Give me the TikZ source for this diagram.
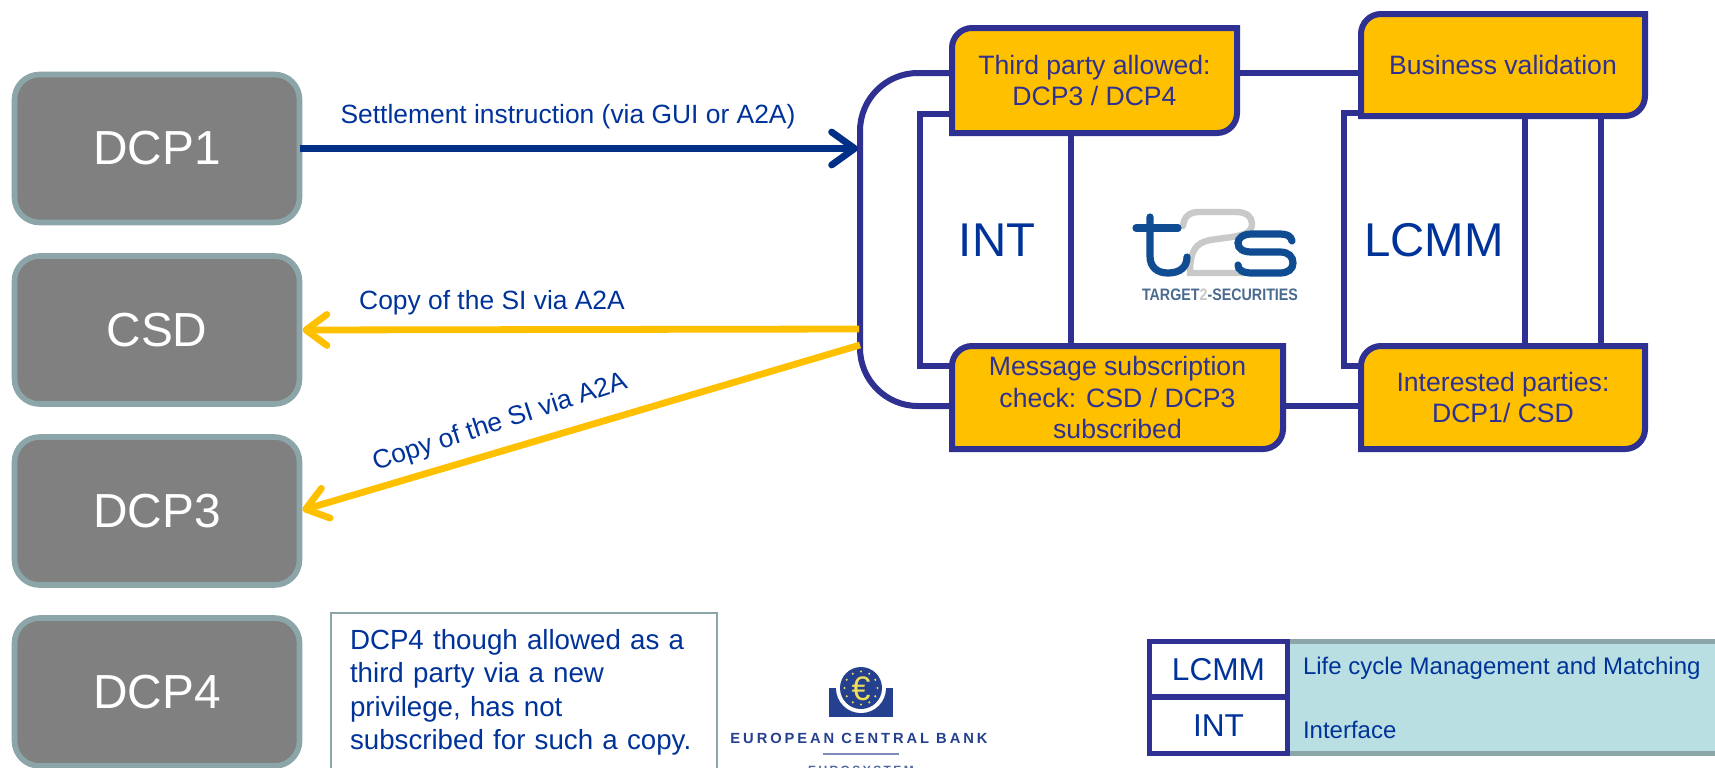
\documentclass[tikz,border=0pt]{standalone}
\usepackage{fontspec}
\usepackage{graphicx}
\setmainfont{Liberation Sans}
\newfontfamily\ecbfont[LetterSpace=20]{Liberation Sans}
\usetikzlibrary{arrows.meta}
\definecolor{navyline}{HTML}{2E3192}
\definecolor{navyarrow}{HTML}{002F87}
\definecolor{textblue}{HTML}{003399}
\definecolor{amber}{HTML}{FFC000}
\definecolor{slate}{HTML}{8BA5A8}
\definecolor{boxgrey}{HTML}{808080}
\definecolor{teal}{HTML}{B9DFE2}
\definecolor{logoblue}{HTML}{0F4C92}
\definecolor{logogrey}{HTML}{C9C9C9}
\definecolor{logotext}{HTML}{4A6A8E}
\definecolor{ecbblue}{HTML}{24408E}
\definecolor{ecbyellow}{HTML}{EFE05A}
\tikzset{
  every node/.style={outer sep=0pt,inner sep=0pt},
  party/.style={draw=slate,fill=boxgrey,line width=2.8pt,rounded corners=12.5pt,minimum width=142.5pt,minimum height=74pt,text=white,font=\fontsize{23.9}{28}\selectfont},
  tagshape/.style={draw=navyline,fill=amber,line width=3pt},
  tagtext/.style={text=navyline,align=center,font=\fontsize{13.3}{15.9}\selectfont},
  frame/.style={draw=navyline,line width=3pt},
  bigtext/.style={text=textblue,font=\fontsize{23.7}{28}\selectfont},
  flowlabel/.style={text=textblue,font=\fontsize{13.2}{15}\selectfont},
  solidflow/.style={draw=navyarrow,line width=3.4pt,-{Straight Barb[length=11.5pt,width=16.5pt,round]}},
  copyflow/.style={draw=amber,line width=3.4pt,shorten >=1.5pt,-{Straight Barb[length=10.5pt,width=15.5pt,round]}},
  legendkey/.style={draw=navyline,fill=white,line width=2.6pt,minimum width=69pt,text=textblue,font=\fontsize{15.8}{19}\selectfont},
  legendtext/.style={anchor=west,text=textblue,font=\fontsize{12}{14}\selectfont},
  t2sblue/.style={draw=logoblue,line width=3.6pt,line cap=round},
  t2sgrey/.style={draw=logogrey,line width=3.2pt,line cap=round},
}
\newcommand{\tagbox}[6]{%
  \pgfmathsetmacro\tagw{(#4-#2)*0.5}%
  \pgfmathsetmacro\tagh{(#5-#3)*0.5}%
  \path[tagshape] (#2,#5) [rounded corners=0pt] -- (#2,{#3+20}) [rounded corners=10pt] -- (#2,#3) [sharp corners] -- (#4,#3) -- (#4,{#5-20}) [rounded corners=10pt] -- (#4,#5) [sharp corners] -- cycle;
  \node[tagtext,minimum width=\tagw pt,minimum height=\tagh pt] (#1) at ({(#2+#4)/2},{(#3+#5)/2}) {#6};
}
\begin{document}
\begin{tikzpicture}[x=0.5pt,y=-0.5pt]
\useasboundingbox (0,0) rectangle (1715,767);
\clip (0,0) rectangle (1715,767);
\fill[white] (0,0) rectangle (1715,767);

% frames behind the amber boxes
\coordinate (outerT) at (860,73);
\coordinate (outerB) at (860,406);
\coordinate (intT) at (920,114);
\coordinate (intB) at (920,366);
\coordinate (lcmT) at (1344,113);
\coordinate (lcmB) at (1344,366);
\coordinate (divA) at (1071,0);
\coordinate (divB) at (1525,0);
\coordinate (divC) at (1601,0);

\tagbox{third}{952}{28}{1237}{133}{Third party allowed:\\DCP3 / DCP4}
\tagbox{biz}{1361}{14}{1645}{116}{Business validation}
\tagbox{msg}{952}{346}{1283}{449}{Message subscription\\check: CSD / DCP3\\subscribed}
\tagbox{inter}{1361}{346}{1645}{449}{Interested parties:\\DCP1/ CSD}

\draw[frame,rounded corners=29pt] (third.west |- outerT) -- (outerT) -- (outerB) -- (msg.west |- outerB);
\draw[frame] (third.east |- outerT) -- (biz.west |- outerT);
\draw[frame] (msg.east |- outerB) -- (inter.west |- outerB);
\draw[frame] (third.west |- intT) -- (intT) -- (intB) -- (msg.west |- intB);
\draw[frame] (biz.west |- lcmT) -- (lcmT) -- (lcmB) -- (inter.west |- lcmB);
\draw[frame] (third.south -| divA) -- (msg.north -| divA);
\draw[frame] (biz.south -| divB) -- (inter.north -| divB);
\draw[frame] (biz.south -| divC) -- (inter.north -| divC);

\node[bigtext] (intlabel) at (997,240) {INT};
\node[bigtext] (lcmmlabel) at (1434,240) {LCMM};

% parties
\node[party] (dcp1) at (157,148.5) {DCP1};
\node[party] (csd) at (157,330) {CSD};
\node[party] (dcp3) at (157,511) {DCP3};
\node[party] (dcp4) at (157,692) {DCP4};

% flows
\coordinate (inArrow) at (858,148.5);
\coordinate (outA) at (859,329);
\coordinate (outB) at (860,345);
\draw[solidflow] (dcp1.east) -- (inArrow);
\draw[copyflow] (outA) -- (csd.east);
\draw[copyflow] (outB) -- (dcp3.east);
\node[flowlabel] (lblA) at (568,117) {Settlement instruction (via GUI or A2A)};
\node[flowlabel] (lblB) at (492,303) {Copy of the SI via A2A};
\node[flowlabel,rotate=18] (lblC) at (500,423) {Copy of the SI via A2A};

% note
\node[draw=slate,line width=1pt,anchor=north west,minimum width=193pt,minimum height=78.5pt,text width=174pt,inner xsep=9.5pt,align=left,text=textblue,font=\fontsize{13.85}{16.7}\selectfont] (note) at (331,613) {\rule{0pt}{11pt}DCP4 though allowed as a\\third party via a new\\privilege, has not\\subscribed for such a copy.};

% T2S logo
\draw[t2sgrey] (1183,226) .. controls (1184,216) and (1190,212) .. (1199,212) -- (1236,212) .. controls (1247,212) and (1252,217) .. (1252,224) .. controls (1252,232) and (1244,235) .. (1232,237) -- (1210,240) .. controls (1196,243) and (1190,250) .. (1190,273) -- (1245,273);
\draw[t2sblue] (1150,217) -- (1150,256) .. controls (1150,267) and (1157,273) .. (1168,273) .. controls (1180,273) and (1187,267) .. (1187,257);
\draw[t2sblue] (1136,228) -- (1178,228);
\draw[t2sblue] (1292,241) .. controls (1291,236) and (1287,234) .. (1280,234) -- (1252,234) .. controls (1243,234) and (1238,238) .. (1238,243) .. controls (1238,249) and (1243,252) .. (1252,252) -- (1280,252) .. controls (1289,252) and (1293,257) .. (1293,263) .. controls (1293,269) and (1288,273) .. (1280,273) -- (1252,273) .. controls (1243,273) and (1238,270) .. (1238,265);
\node[text=logotext,font=\fontsize{8.3}{10}\selectfont\bfseries] (t2stext) at (1220,295) {\scalebox{.86}[1]{TARGET\textcolor{logogrey}{2}-SECURITIES}};

% ECB logo
\fill[ecbblue] (829,688) rectangle (893,717);
\fill[white] (861,688) circle[radius=25];
\fill[ecbblue] (861,688) circle[radius=21];
\foreach \a in {0,30,...,330}{\fill[ecbyellow] ({861+16.5*cos(\a)},{688+16.5*sin(\a)}) circle[radius=1.2];}
\node[text=ecbyellow,font=\fontsize{17}{17}\selectfont] (euro) at (861,689) {€};
\node[text=ecbblue,font=\ecbfont\fontsize{7.35}{9}\selectfont\bfseries] (ecbname) at (859,738) {EUROPEAN CENTRAL BANK};
\draw[ecbblue!60,line width=.8pt] (823,754) -- (899,754);
\node[text=ecbblue!80,font=\ecbfont\fontsize{6}{8}\selectfont\bfseries] (ecbsys) at (861,770) {EUROSYSTEM};

% legend
\fill[teal] (1290,641) rectangle (1715,754);
\fill[slate] (1290,639) rectangle (1715,644);
\fill[slate] (1290,751) rectangle (1715,756);
\node[legendkey,minimum height=27.7pt] (keyL) at (1218.5,669.2) {LCMM};
\node[legendkey,minimum height=28pt] (keyI) at (1218.5,725.5) {INT};
\node[legendtext] (txtL) at (1303,668) {Life cycle Management and Matching};
\node[legendtext] (txtI) at (1303,730) {Interface};
\end{tikzpicture}
\end{document}
